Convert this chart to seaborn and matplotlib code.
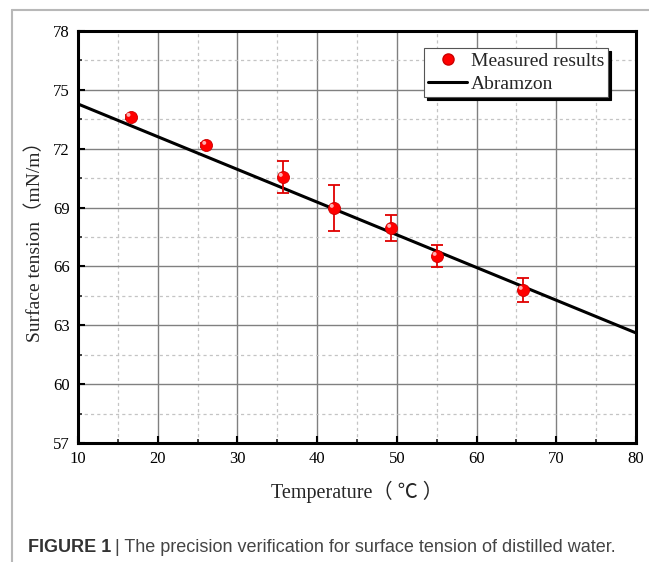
import numpy as np
import pandas as pd
import matplotlib
matplotlib.use("Agg")
import matplotlib.pyplot as plt
import matplotlib.transforms as mtransforms
from matplotlib.lines import Line2D
from matplotlib.ticker import MultipleLocator
import seaborn as sns

# Data
temp = [16.6, 26.1, 35.7, 42.1, 49.3, 55.0, 65.8]
tension = [73.62, 72.19, 70.56, 68.98, 67.96, 66.53, 64.80]
err = [0.10, 0.10, 0.82, 1.17, 0.66, 0.54, 0.59]
line_t = [10, 80]
line_s = [74.28, 62.61]

sns.set_theme(style="white")
plt.rcParams['font.family'] = ['Liberation Serif', 'Noto Sans CJK SC', 'DejaVu Sans']

fig = plt.figure(figsize=(6.49, 5.62), dpi=100)
ax = fig.add_axes([78/649, 1-443/562, 558/649, 412/562])

df_pts = pd.DataFrame({"T": temp, "S": tension})
df_line = pd.DataFrame({"T": line_t, "S": line_s})

ax.set_xlim(10, 80)
ax.set_ylim(57, 78)
ax.xaxis.set_major_locator(MultipleLocator(10))
ax.xaxis.set_minor_locator(MultipleLocator(5))
ax.yaxis.set_major_locator(MultipleLocator(3))
ax.yaxis.set_minor_locator(MultipleLocator(1.5))
ax.grid(True, which="major", color="#808080", lw=1.0, ls="-")
ax.grid(True, which="minor", color="#c4c4c4", lw=0.9, ls=(0, (2.5, 2.5)))
ax.set_axisbelow(True)

sns.lineplot(data=df_line, x="T", y="S", ax=ax, color="black", lw=2.2,
             zorder=3, legend=False)
ax.errorbar(temp, tension, yerr=err, fmt="none", ecolor="#e00000", elinewidth=1.3,
            capsize=4, capthick=1.3, zorder=4)
sns.scatterplot(data=df_pts, x="T", y="S", ax=ax, color="#ff0000", s=75,
                edgecolor="#cc0000", linewidth=0.6, zorder=5, legend=False)
off = mtransforms.offset_copy(ax.transData, fig=fig, x=-1.5, y=1.5, units="points")
ax.scatter(temp, tension, s=8, color="#ffb0b0", edgecolors="none", zorder=6, transform=off)

for s in ax.spines.values():
    s.set_color("black")
    s.set_linewidth(2.2)

ax.tick_params(axis="both", which="major", direction="in", length=5, width=1.5,
               labelsize=12, colors="black", top=False, right=False, bottom=True, left=True, pad=6)
ax.tick_params(axis="both", which="minor", direction="in", length=3, width=1.2,
               top=False, right=False, bottom=True, left=True)
ax.set_xlabel("Temperature（ ℃ ）", fontsize=14.5, labelpad=10)
ax.set_ylabel("Surface tension（mN/m）", fontsize=14, labelpad=6)

handles = [Line2D([], [], marker="o", ls="none", color="#ff0000", markeredgecolor="#cc0000",
                  markersize=8),
           Line2D([], [], color="black", lw=2.2)]
leg = ax.legend(handles, ["Measured results", "Abramzon"], loc="upper right",
                bbox_to_anchor=(0.95, 0.9587), fontsize=14, frameon=True, fancybox=False,
                shadow={"color": "black", "alpha": 1.0}, borderpad=0.2, labelspacing=0.3,
                handlelength=2.0, handletextpad=0.2, borderaxespad=0)
leg.get_frame().set_edgecolor("#555555")
leg.get_frame().set_linewidth(0.8)

# figure border
fig.add_artist(Line2D([12/649, 12/649], [0, 1-10/562], color="#b8b8b8", lw=1.5))
fig.add_artist(Line2D([12/649, 1.0], [1-10/562, 1-10/562], color="#b8b8b8", lw=1.5))

cap_y = 1 - 547/562
t1 = fig.text(28/649, cap_y, "FIGURE 1", fontsize=13, fontweight="bold",
              family=["Liberation Sans", "DejaVu Sans"], color="#333333", va="center")
fig.canvas.draw()
bb = t1.get_window_extent(renderer=fig.canvas.get_renderer())
fig.text(bb.x1/649 + 4/649, cap_y,
         "| The precision verification for surface tension of distilled water.",
         fontsize=13, family=["Liberation Sans", "DejaVu Sans"], color="#444444", va="center")

fig.savefig("out.png", dpi=100)
